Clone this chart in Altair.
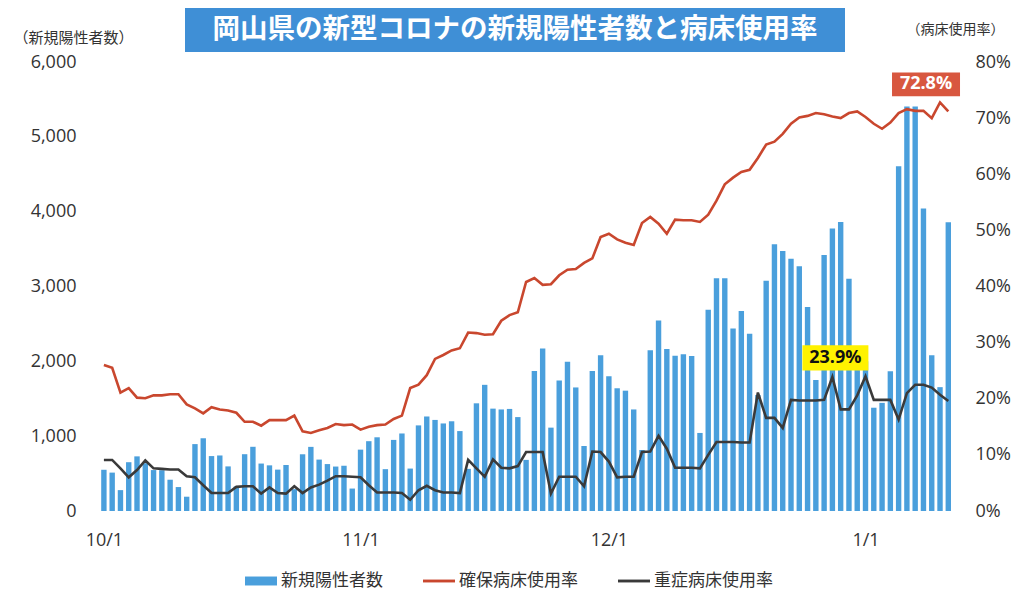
import altair as alt
import pandas as pd

# ---------------- data ----------------
dates = pd.date_range("2022-10-01", "2023-01-11", freq="D").strftime("%Y-%m-%d").tolist()

cases = [551, 513, 279, 652, 730, 639, 547, 545, 418, 320,
         191, 894, 972, 734, 742, 596, 328, 759, 858, 634,
         610, 553, 615, 292, 758, 857, 687, 627, 594, 605,
         300, 820, 933, 985, 559, 950, 1036, 567, 1144, 1263,
         1217, 1170, 1199, 1068, 563, 1439, 1686, 1368, 1357, 1364,
         1255, 683, 1870, 2173, 1114, 1745, 1996, 1651, 869, 1870,
         2082, 1800, 1640, 1608, 1357, 815, 2147, 2546, 2164, 2074,
         2094, 2070, 1043, 2689, 3111, 3110, 2439, 2674, 2368, 1550,
         3076, 3566, 3474, 3370, 3269, 2725, 1750, 3420, 3776, 3861,
         3103, 2050, 2000, 1380, 1445, 1866, 4606, 5405, 5404, 4043,
         2080, 1655, 3859]

secured_rate = [26.0, 25.5, 21.1, 21.9, 20.2, 20.1, 20.6, 20.6, 20.8, 20.8,
                19.0, 18.3, 17.4, 18.5, 18.1, 17.9, 17.5, 15.9, 15.9, 15.2,
                16.2, 16.2, 16.2, 17.0, 14.2, 13.9, 14.4, 14.8, 15.5, 15.3,
                15.4, 14.5, 15.0, 15.3, 15.4, 16.4, 17.0, 21.9, 22.5, 24.2,
                27.1, 27.8, 28.6, 29.0, 31.8, 31.7, 31.4, 31.5, 33.9, 34.9,
                35.4, 40.8, 41.5, 40.3, 40.4, 42.0, 43.0, 43.1, 44.2, 45.0,
                48.8, 49.4, 48.4, 47.8, 47.4, 51.3, 52.4, 51.2, 49.4, 51.9,
                51.8, 51.8, 51.5, 52.8, 55.3, 58.2, 59.4, 60.4, 60.8, 62.9,
                65.3, 65.8, 67.2, 69.0, 70.1, 70.4, 70.9, 70.7, 70.3, 70.0,
                70.9, 71.2, 70.2, 69.0, 68.1, 69.2, 70.9, 71.6, 71.3, 71.3,
                70.0, 72.8, 71.2]

severe_rate = [9.1, 9.1, 7.6, 6.0, 7.3, 9.0, 7.6, 7.5, 7.4, 7.4,
               6.2, 6.0, 4.6, 3.2, 3.2, 3.2, 4.3, 4.4, 4.4, 3.1,
               4.2, 3.2, 3.1, 4.4, 3.2, 4.2, 4.7, 5.4, 6.2, 6.2,
               6.1, 6.0, 4.6, 3.3, 3.3, 3.3, 3.2, 2.0, 3.7, 4.5,
               3.7, 3.3, 3.3, 3.2, 9.1, 7.6, 6.1, 9.2, 7.7, 7.6,
               8.0, 10.5, 10.5, 10.5, 3.1, 6.1, 6.1, 6.1, 4.4, 10.6,
               10.5, 8.8, 6.0, 6.1, 6.1, 10.5, 10.6, 13.4, 11.1, 7.7,
               7.7, 7.7, 7.6, 10.0, 12.3, 12.3, 12.3, 12.2, 12.2, 21.1,
               16.6, 16.6, 14.8, 19.8, 19.7, 19.7, 19.7, 19.8, 23.9, 18.1,
               18.1, 20.6, 24.0, 19.8, 19.8, 19.8, 16.3, 21.0, 22.5, 22.5,
               22.0, 20.7, 19.6]

month_starts = ["2022-10-01", "2022-11-01", "2022-12-01", "2023-01-01"]
month_labels = ["10/1", "11/1", "12/1", "1/1"]
series_names = ["新規陽性者数", "確保病床使用率", "重症病床使用率"]
left_ticks = [0, 1000, 2000, 3000, 4000, 5000, 6000]
right_ticks = [0, 10, 20, 30, 40, 50, 60, 70, 80]
title_text = "岡山県の新型コロナの新規陽性者数と病床使用率"
peak_red_date = "2023-01-10"
peak_black_date = "2022-12-28"

# ---------------- tables ----------------
day = list(range(len(dates)))
tick_idx = [dates.index(d) for d in month_starts]

bars_df = pd.DataFrame({"day": day, "date": dates, "cases": cases, "series": series_names[0]})
lines_df = pd.concat([
    pd.DataFrame({"day": day, "date": dates, "rate": secured_rate, "series": series_names[1]}),
    pd.DataFrame({"day": day, "date": dates, "rate": severe_rate, "series": series_names[2]}),
], ignore_index=True)

ri = dates.index(peak_red_date)
bi = dates.index(peak_black_date)
red_df = pd.DataFrame({"day": [ri], "rate": [secured_rate[ri]], "label": [f"{secured_rate[ri]:.1f}%"]})
yel_df = pd.DataFrame({"day": [bi], "rate": [severe_rate[bi]], "label": [f"{severe_rate[bi]:.1f}%"]})

# ---------------- styling ----------------
JP = "Noto Sans CJK JP"
NUM = "Open Sans"
TXT = "#333333"
colors = ["#4a9fdc", "#c9472e", "#3a3a3a"]

label_expr = " : ".join(f"datum.value == {i} ? '{l}'" for i, l in zip(tick_idx, month_labels)) + " : ''"

x_enc = alt.X(
    "day:Q",
    scale=alt.Scale(domain=[-1.075, 102.81], nice=False, zero=False),
    axis=alt.Axis(values=tick_idx, labelExpr=label_expr, title=None, grid=False, ticks=False,
                  domain=False, labelFont=NUM, labelFontSize=18, labelColor=TXT, labelPadding=20),
)

right_axis = alt.Axis(orient="right", values=right_ticks, labelExpr="datum.value + '%'", grid=False,
                      ticks=False, domain=False, labelFont=NUM, labelFontSize=18, labelColor=TXT,
                      labelPadding=15, title="（病床使用率）", titleAngle=0, titleX=-5, titleY=-33,
                      titleAlign="center", titleBaseline="middle", titleFont=JP, titleFontSize=14,
                      titleFontWeight="normal", titleColor=TXT)
y_right = alt.Y("rate:Q", scale=alt.Scale(domain=[0, 80], nice=False), axis=right_axis)

shape_expr = ("datum.value == '" + series_names[0] + "' ? 'M-1,-0.28H1V0.28H-1Z' : 'M-1,-0.09H1V0.09H-1Z'")
color_enc = alt.Color(
    "series:N",
    scale=alt.Scale(domain=series_names, range=colors),
    legend=alt.Legend(title=None, orient="none", legendX=155, legendY=503, direction="horizontal",
                      symbolSize=1024, labelFont=JP, labelFontSize=17, labelColor=TXT, labelOffset=4,
                      columnPadding=40, padding=0,
                      symbolType=alt.ExprRef(expr=shape_expr),
                      symbolStrokeWidth=0, symbolOpacity=1),
)

bars = alt.Chart(bars_df).mark_bar(size=5.4).encode(
    x=x_enc,
    y=alt.Y("cases:Q", scale=alt.Scale(domain=[0, 6000], nice=False),
            axis=alt.Axis(values=left_ticks, format=",.0f", grid=False, ticks=False, domain=False,
                          labelFont=NUM, labelFontSize=18, labelColor=TXT, labelPadding=14,
                          title="（新規陽性者数）", titleAngle=0, titleX=-17, titleY=-25,
                          titleAlign="center", titleBaseline="middle", titleFont=JP,
                          titleFontSize=15, titleFontWeight="normal", titleColor=TXT)),
    color=color_enc,
)

lines = alt.Chart(lines_df).mark_line(strokeWidth=2.6).encode(x=x_enc, y=y_right, color=color_enc)

red_box = alt.Chart(red_df).mark_point(shape="M-1,-0.35H1V0.35H-1Z", size=68 * 68, filled=True,
                                       color="#d8573f", opacity=1, strokeWidth=0,
                                       xOffset=-14, yOffset=-18).encode(x=x_enc, y=y_right)
red_txt = alt.Chart(red_df).mark_text(dx=-14, dy=-18, font=NUM, fontSize=18, fontWeight="bold",
                                      color="white", align="center", baseline="middle").encode(
    x=x_enc, y=y_right, text="label:N")
yel_box = alt.Chart(yel_df).mark_point(shape="M-1,-0.38H1V0.38H-1Z", size=66 * 66, filled=True,
                                       color="#fff200", opacity=1, strokeWidth=0,
                                       xOffset=3, yOffset=-19).encode(x=x_enc, y=y_right)
yel_txt = alt.Chart(yel_df).mark_text(dx=3, dy=-19, font=NUM, fontSize=18, fontWeight="bold",
                                      color="#111111", align="center", baseline="middle").encode(
    x=x_enc, y=y_right, text="label:N")

right_layer = alt.layer(lines, red_box, red_txt, yel_box, yel_txt)

# blue banner with the chart title
banner = alt.Chart(alt.Data(values=[{}])).mark_rect(color="#3f8fd6").encode(
    x=alt.value(95), x2=alt.value(755), y=alt.value(-55), y2=alt.value(-10))
banner_txt = alt.Chart(alt.Data(values=[{}])).mark_text(
    font=JP, fontSize=27.5, fontWeight="bold", color="white", align="center", baseline="middle"
).encode(x=alt.value(425), y=alt.value(-32), text=alt.value(title_text))

chart = alt.layer(banner, banner_txt, bars, right_layer).resolve_scale(y="independent").properties(
    width=870, height=449,
    padding={"left": 82, "top": 54, "right": 54, "bottom": 80},
    autosize=alt.AutoSizeParams(type="none"),
    background="white",
).configure_view(stroke=None)

chart.save("out.html", embed_options={"renderer": "svg", "actions": False})
